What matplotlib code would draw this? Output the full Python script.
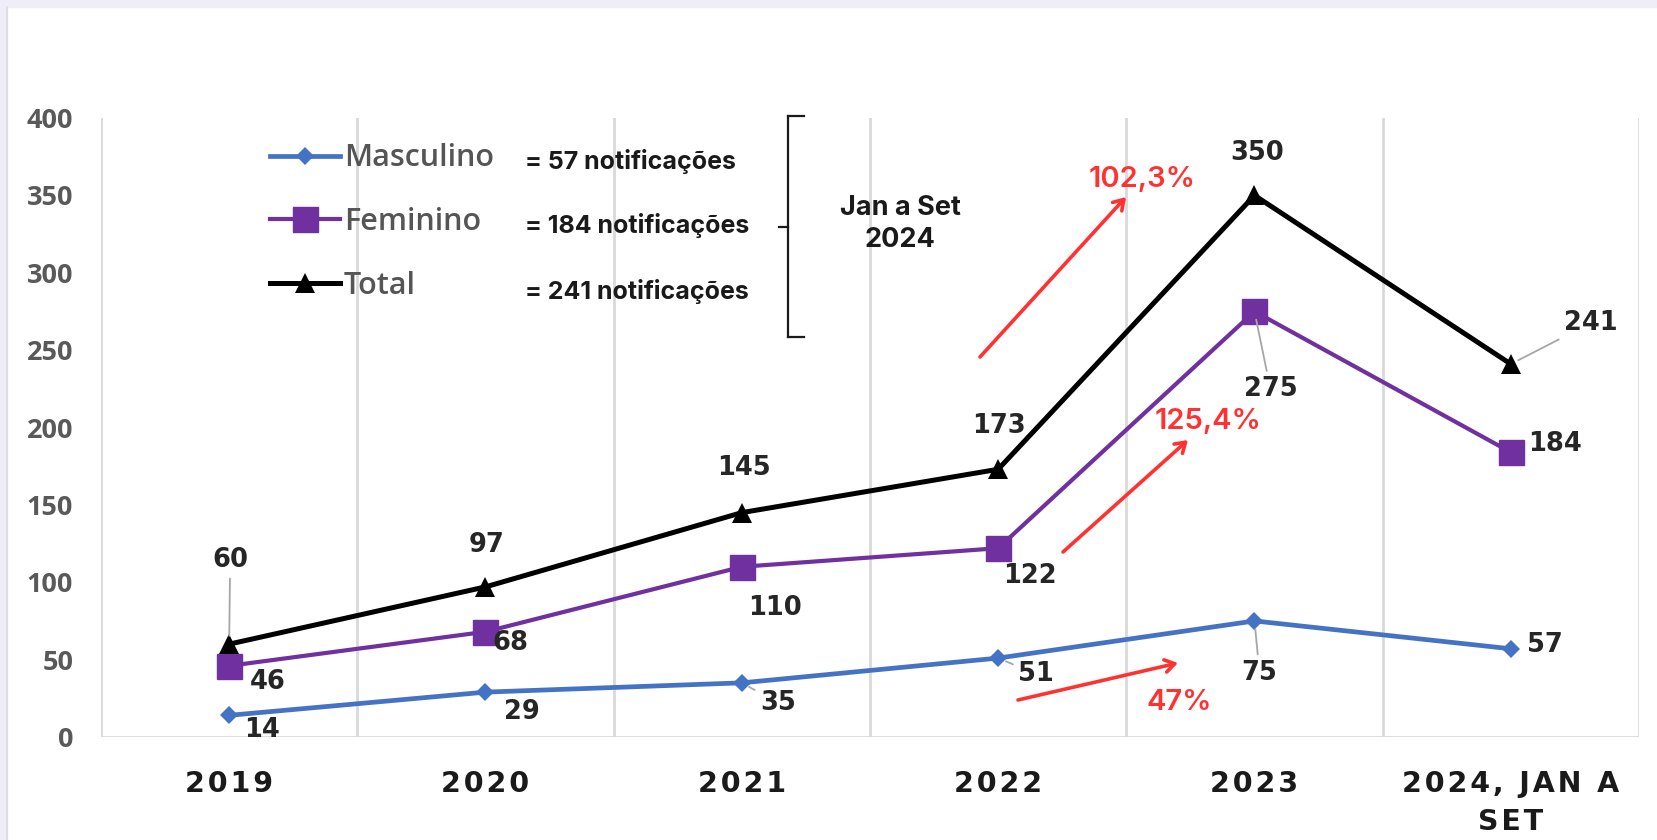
import matplotlib
matplotlib.use("Agg")
import matplotlib.pyplot as plt
from matplotlib.patches import Rectangle
from matplotlib.lines import Line2D

# ---- data ----
categories = ["2019", "2020", "2021", "2022", "2023", "2024, JAN A\nSET"]
masculino = [14, 29, 35, 51, 75, 57]
feminino = [46, 68, 110, 122, 275, 184]
total = [60, 97, 145, 173, 350, 241]
series_names = ["Masculino", "Feminino", "Total"]
legend_notes = ["= 57 notificações", "= 184 notificações", "= 241 notificações"]
bracket_note = "Jan a Set\n2024"
growth_labels = ["102,3%", "125,4%", "47%"]
yticks = [0, 50, 100, 150, 200, 250, 300, 350, 400]

W, H = 1658, 840
fig = plt.figure(figsize=(W / 100, H / 100), dpi=100)
fig.patch.set_facecolor("white")

# frame decorations
fig.add_artist(Rectangle((0, 1 - 7 / H), 1, 7 / H, transform=fig.transFigure,
                         color="#EEEDF8", zorder=0))
fig.add_artist(Rectangle((0, 0), 7 / W, 1, transform=fig.transFigure,
                         color="#EEEDF8", zorder=0))
fig.add_artist(Line2D([7.5 / W, 7.5 / W], [0, 1 - 7 / H], transform=fig.transFigure,
                      color="#dcdce4", lw=1.2))

ax = fig.add_axes([101 / W, 1 - 737 / H, (1639 - 101) / W, (737 - 118) / H])
ax.set_xlim(-0.5, len(categories) - 0.5)
ax.set_ylim(0, 400)
for s in ax.spines.values():
    s.set_visible(False)

for k in range(len(categories) + 1):
    ax.axvline(k - 0.5, color="#d9d9d9", lw=2, zorder=1)
ax.axhline(0, color="#d9d9d9", lw=2, zorder=1)

x = list(range(len(categories)))
l1, = ax.plot(x, masculino, color="#4472C4", lw=3.4, marker="D", ms=9.5,
              mew=0, zorder=3, label=series_names[0])
l2, = ax.plot(x, feminino, color="#7030A0", lw=3.0, marker="s", ms=18,
              mew=1, mec="#7030A0", zorder=4, label=series_names[1])
l3, = ax.plot(x, total, color="#000000", lw=3.6, marker="^", ms=15,
              mew=0, zorder=5, label=series_names[2])

# ticks (letter-spaced category labels)
def spaced(t):
    return "\n".join("\u200a".join(line) for line in t.split("\n"))

ax.set_xticks(x)
ax.set_xticklabels([spaced(c) for c in categories], fontsize=20.5,
                   fontweight="bold", color="#1a1a1a", family="DejaVu Sans",
                   linespacing=1.45)
ax.set_yticks(yticks)
ax.set_yticklabels([str(v) for v in yticks], fontsize=19.5, fontweight="bold",
                   color="#595959", family="Open Sans")
ax.tick_params(axis="x", length=0, pad=24)
ax.tick_params(axis="y", length=0, pad=20)

# data labels: offsets in pixels (dx, dy up)
lab_kw = dict(textcoords="offset pixels", ha="center", va="center",
              fontsize=18.5, fontweight="bold", color="#262626",
              family="DejaVu Sans", zorder=6)
lead = dict(arrowstyle="-", color="#a6a6a6", lw=1.3, shrinkA=2, shrinkB=6)

off_total = [(1, 84), (1, 42), (2, 45), (1, 43), (3, 42), (80, 41)]
off_fem = [(39, -16), (25, -11), (33, -41), (32, -28), (16, -78), (44, 8)]
off_masc = [(33, -15), (36, -20), (36, -20), (38, -16), (5, -52), (34, 4)]
lead_total = [True, False, False, False, False, True]
lead_fem = [False, False, False, False, True, False]
lead_masc = [False, False, True, True, True, False]

for vals, offs, leads in ((total, off_total, lead_total),
                          (feminino, off_fem, lead_fem),
                          (masculino, off_masc, lead_masc)):
    for i, v in enumerate(vals):
        kw = dict(lab_kw)
        if leads[i]:
            kw["arrowprops"] = lead
        ax.annotate(str(v), xy=(i, v), xytext=offs[i], **kw)

# legend
leg = ax.legend(handles=[l1, l2, l3], loc="center left",
                bbox_to_anchor=(270 / W, 1 - 222 / H),
                bbox_transform=fig.transFigure, frameon=False, borderpad=0,
                borderaxespad=0, handlelength=2.3, handletextpad=0.12,
                labelspacing=1.1, prop=dict(family="Open Sans", size=22,
                                            weight="semibold"))
for t in leg.get_texts():
    t.set_color("#555555")

note_kw = dict(ha="left", va="center", fontsize=18, fontweight="bold",
               color="#1a1a1a", family="Inter")
for note, yy in zip(legend_notes, [161, 225, 291]):
    fig.text(525 / W, 1 - yy / H, note, **note_kw)

# bracket
bx, by0, by1 = 788, 116, 337
for xs, ys in (([bx, bx], [by0, by1]), ([bx, 804], [by0, by0]),
               ([bx, 804], [by1, by1]), ([779, bx], [227, 227])):
    fig.add_artist(Line2D([a / W for a in xs], [1 - b / H for b in ys],
                          transform=fig.transFigure, color="#1a1a1a", lw=1.6))
fig.text(900 / W, 1 - 224 / H, bracket_note, ha="center", va="center",
         fontsize=19.5, fontweight="bold", color="#1a1a1a", family="Inter",
         linespacing=1.3)

# red growth annotations (figure pixels, origin bottom-left)
red = "#FF3131"
arrows = [((980, 357), (1126, 197)), ((1063, 552), (1188, 440)),
          ((1018, 700), (1178, 663))]
texts_pos = [(1142, 179), (1208, 422), (1179, 703)]
for (p0, p1), lbl, tp in zip(arrows, growth_labels, texts_pos):
    ax.annotate("", xy=(p1[0], H - p1[1]), xycoords="figure pixels",
                xytext=(p0[0], H - p0[1]), textcoords="figure pixels",
                arrowprops=dict(arrowstyle="->,head_length=0.7,head_width=0.45",
                                color=red, lw=2.6, shrinkA=0, shrinkB=0),
                zorder=7)
    fig.text(tp[0] / W, 1 - tp[1] / H, lbl, ha="center", va="center",
             fontsize=21, fontweight="semibold", color=red, family="Inter")

fig.savefig("out.png", dpi=100, facecolor="white")
